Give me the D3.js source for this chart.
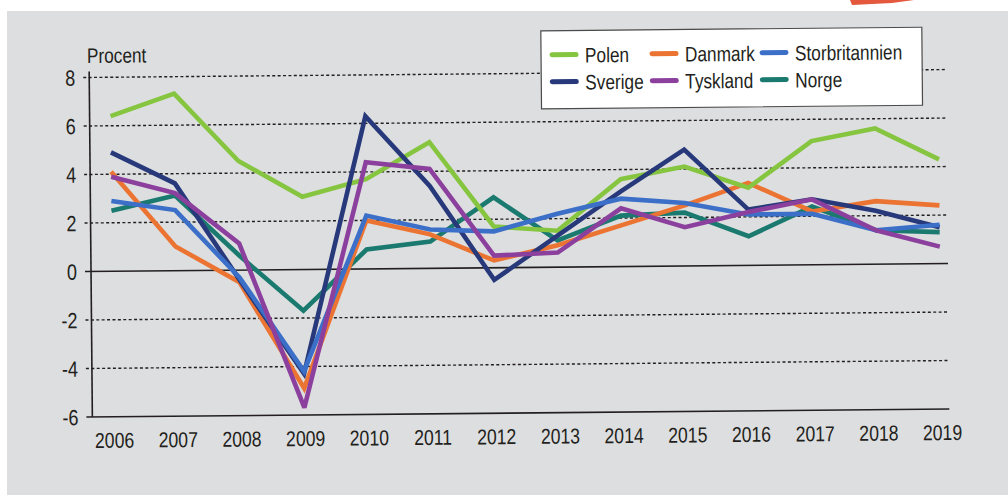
<!DOCTYPE html>
<html>
<head>
<meta charset="utf-8">
<script src="https://cdn.jsdelivr.net/npm/d3@7"></script>
<style>
  html, body { margin: 0; padding: 0; background: #ffffff; }
  svg { display: block; }
  text { font-family: "Liberation Sans", Arial, sans-serif; fill: #231f20; }
</style>
</head>
<body>
<div id="chart"></div>
<script>
(function () {
  var years = [2006, 2007, 2008, 2009, 2010, 2011, 2012, 2013, 2014, 2015, 2016, 2017, 2018, 2019];
  var yTicks = [8, 6, 4, 2, 0, -2, -4, -6];

  var polen          = [6.4, 7.3, 4.5, 3.0, 3.7, 5.2, 1.7, 1.5, 3.6, 4.1, 3.2, 5.1, 5.6, 4.3];
  var sverige        = [4.9, 3.6, -0.4, -4.3, 6.3, 3.4, -0.5, 1.3, 3.1, 4.8, 2.3, 2.7, 2.2, 1.5];
  var danmark        = [4.1, 1.0, -0.5, -4.9, 2.0, 1.4, 0.3, 0.9, 1.7, 2.5, 3.4, 2.2, 2.6, 2.4];
  var storbritannien = [2.9, 2.5, -0.3, -4.2, 2.2, 1.6, 1.5, 2.2, 2.8, 2.6, 2.1, 2.1, 1.4, 1.6];
  var tyskland       = [3.9, 3.2, 1.1, -5.7, 4.4, 4.1, 0.5, 0.6, 2.4, 1.6, 2.2, 2.7, 1.4, 0.7];
  var norge          = [2.5, 3.1, 0.6, -1.7, 0.8, 1.1, 2.9, 1.1, 2.1, 2.2, 1.2, 2.4, 1.4, 1.3];

  // draw order: first is at the bottom
  var series = [
    { name: 'Norge',          values: norge,          color: '#1b7a6f' },
    { name: 'Danmark',        values: danmark,        color: '#ec7433' },
    { name: 'Polen',          values: polen,          color: '#86c540' },
    { name: 'Sverige',        values: sverige,        color: '#27397a' },
    { name: 'Storbritannien', values: storbritannien, color: '#3c6fc8' },
    { name: 'Tyskland',       values: tyskland,       color: '#8c409e' }
  ];
  var legendOrder = ['Polen', 'Danmark', 'Storbritannien', 'Sverige', 'Tyskland', 'Norge'];

  var W = 1008, H = 498;
  var NARROW = 0.82; // the print uses a condensed face

  var svg = d3.select('#chart').append('svg')
    .attr('width', W).attr('height', H);

  // scanned page: grey panel and a bit of red at the top edge
  svg.append('rect')
    .attr('x', 7).attr('y', 11).attr('width', W - 7).attr('height', 484)
    .attr('fill', '#dddedf');
  svg.append('path')
    .attr('d', 'M850,0 L914,0 L892,3 L852,5 Z')
    .attr('fill', '#e4583e');

  // the scan is tilted a little
  var g = svg.append('g').attr('transform', 'rotate(-0.53, 519, 267)');

  var x = d3.scalePoint().domain(years).range([112, 940]);
  var y = d3.scaleLinear().domain([-6, 8]).range([413, 73.5]);
  var left = 91, right = 948;

  function narrowText(sel, px, py) {
    sel.attr('transform', function (d, i) {
      return 'translate(' + px(d, i) + ',' + py(d, i) + ') scale(' + NARROW + ',1)';
    });
  }

  // dashed grid
  g.append('g')
    .selectAll('line')
    .data(yTicks.filter(function (d) { return d !== 0 && d !== -6; }))
    .join('line')
    .attr('x1', left - 6).attr('x2', right)
    .attr('y1', function (d) { return y(d); })
    .attr('y2', function (d) { return y(d); })
    .attr('stroke', '#231f20')
    .attr('stroke-width', 1.4)
    .attr('stroke-dasharray', '3,2.4');

  // zero line, axes
  g.append('line')
    .attr('x1', left - 6).attr('x2', right)
    .attr('y1', y(0)).attr('y2', y(0))
    .attr('stroke', '#231f20').attr('stroke-width', 1.6);
  g.append('line')
    .attr('x1', left - 6).attr('x2', right)
    .attr('y1', y(-6)).attr('y2', y(-6))
    .attr('stroke', '#231f20').attr('stroke-width', 1.6);
  g.append('line')
    .attr('x1', left).attr('x2', left)
    .attr('y1', y(8) - 6).attr('y2', y(-6))
    .attr('stroke', '#231f20').attr('stroke-width', 1.6);

  // y tick labels
  g.append('g')
    .selectAll('text')
    .data(yTicks)
    .join('text')
    .attr('text-anchor', 'end')
    .style('font-size', '22px')
    .text(function (d) { return d; })
    .call(narrowText, function () { return 77; }, function (d) { return y(d) + 8; });

  g.append('text')
    .style('font-size', '21px')
    .text('Procent')
    .call(narrowText, function () { return 89; }, function () { return 59; });

  // x tick labels
  g.append('g')
    .selectAll('text')
    .data(years)
    .join('text')
    .attr('text-anchor', 'middle')
    .style('font-size', '21.5px')
    .text(function (d) { return d; })
    .call(narrowText, function (d) { return x(d) + 1; }, function () { return 444; });

  var line = d3.line()
    .x(function (d, i) { return x(years[i]); })
    .y(function (d) { return y(d); });

  g.append('g')
    .selectAll('path')
    .data(series)
    .join('path')
    .attr('d', function (d) { return line(d.values); })
    .attr('fill', 'none')
    .attr('stroke', function (d) { return d.color; })
    .attr('stroke-width', 4.6)
    .attr('stroke-linejoin', 'miter')
    .attr('stroke-miterlimit', 3);

  // legend
  var lg = g.append('g');
  lg.append('rect')
    .attr('x', 543).attr('y', 31).attr('width', 381).attr('height', 78)
    .attr('fill', '#ffffff')
    .attr('stroke', '#4a4a4a').attr('stroke-width', 1.2);

  var colX = [552, 652, 762];
  var rowY = [55, 82];
  var byName = {};
  series.forEach(function (s) { byName[s.name] = s; });

  var items = lg.selectAll('g.item')
    .data(legendOrder)
    .join('g')
    .attr('class', 'item')
    .attr('transform', function (d, i) {
      return 'translate(' + colX[i % 3] + ',' + rowY[Math.floor(i / 3)] + ')';
    });
  items.append('line')
    .attr('x1', 2).attr('x2', 26).attr('y1', 0).attr('y2', 0)
    .attr('stroke', function (d) { return byName[d].color; })
    .attr('stroke-width', 5)
    .attr('stroke-linecap', 'round');
  items.append('text')
    .style('font-size', '21px')
    .text(function (d) { return d; })
    .call(narrowText, function () { return 35; }, function () { return 8; });
})();
</script>
</body>
</html>
